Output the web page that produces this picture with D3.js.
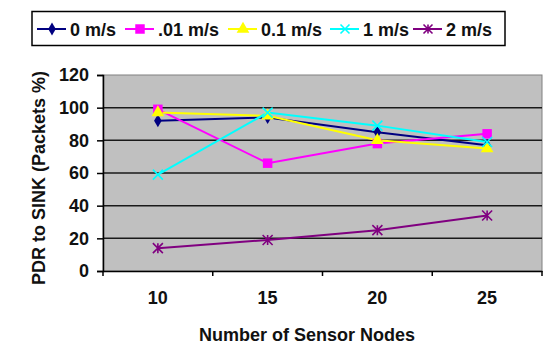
<!DOCTYPE html>
<html lang="en">
  <head>
    <meta charset="UTF-8" />
    <script src="https://d3js.org/d3.v7.min.js"></script>
    <title>PDR to SINK</title>
    <style>
      body { margin: 0; background: #fff; }
      text { font-family: Arial, "Liberation Sans", sans-serif; font-weight: bold; }
    </style>
  </head>
  <body>
    <svg id="chart" width="549" height="345"></svg>

    <script>
      // data
      const nodes = ["10", "15", "20", "25"];
      const seriesNames = ["0 m/s", ".01 m/s", "0.1 m/s", "1 m/s", "2 m/s"];
      const v0 = [92, 94, 85, 77];
      const v001 = [99, 66, 78, 84];
      const v01 = [97, 95, 80, 75];
      const v1 = [59, 97, 89, 79];
      const v2 = [14, 19, 25, 34];
      const yTicks = [0, 20, 40, 60, 80, 100, 120];

      const colors = ["#000080", "#ff00ff", "#ffff00", "#00ffff", "#800080"];
      const symbols = ["diamond", "square", "triangle", "x", "star"];
      const allValues = [v0, v001, v01, v1, v2];

      const svg = d3.select("#chart");
      const plot = { left: 103, right: 542, top: 75, bottom: 271 };
      const fontSize = "18px";

      const x = d3.scaleBand().domain(nodes).range([plot.left, plot.right]);
      const y = d3.scaleLinear().domain([0, 120]).range([plot.bottom, plot.top]);

      // plot background
      svg.append("rect")
        .attr("x", plot.left)
        .attr("y", plot.top)
        .attr("width", plot.right - plot.left)
        .attr("height", plot.bottom - plot.top)
        .attr("fill", "#c0c0c0")
        .attr("stroke", "#808080")
        .attr("stroke-width", 1);

      // gridlines
      svg.append("g")
        .selectAll("line")
        .data(yTicks.filter((d) => d > 0 && d < 120))
        .enter()
        .append("line")
        .attr("x1", plot.left)
        .attr("x2", plot.right)
        .attr("y1", (d) => y(d))
        .attr("y2", (d) => y(d))
        .attr("stroke", "#1a1a1a")
        .attr("stroke-width", 1.5);

      // axes
      const yAxis = svg.append("g")
        .attr("transform", `translate(${plot.left},0)`)
        .call(d3.axisLeft(y).tickValues(yTicks).tickSize(6).tickPadding(8));
      yAxis.select(".domain").attr("stroke", "#000").attr("stroke-width", 1.5);
      yAxis.selectAll(".tick line").attr("stroke", "#000").attr("stroke-width", 1.5);
      yAxis.selectAll("text").style("font-size", fontSize).attr("fill", "#111");

      const xAxis = svg.append("g")
        .attr("transform", `translate(0,${plot.bottom})`)
        .call(d3.axisBottom(x).tickSize(0).tickPadding(20));
      xAxis.select(".domain").attr("stroke", "#000").attr("stroke-width", 1.5);
      xAxis.selectAll("text").style("font-size", fontSize).attr("fill", "#111");

      // category separators on the x axis
      svg.append("g")
        .selectAll("line")
        .data(nodes.concat(["end"]))
        .enter()
        .append("line")
        .attr("x1", (d, i) => plot.left + i * x.step())
        .attr("x2", (d, i) => plot.left + i * x.step())
        .attr("y1", plot.bottom)
        .attr("y2", plot.bottom + 5)
        .attr("stroke", "#000")
        .attr("stroke-width", 1.5);

      // axis titles
      svg.append("text")
        .attr("x", 307)
        .attr("y", 341)
        .attr("text-anchor", "middle")
        .style("font-size", fontSize)
        .attr("fill", "#111")
        .text("Number of Sensor Nodes");

      svg.append("text")
        .attr("transform", "translate(45,178) rotate(-90)")
        .attr("text-anchor", "middle")
        .style("font-size", fontSize)
        .attr("fill", "#111")
        .text("PDR to SINK (Packets %)");

      // marker drawer
      function marker(g, type, color, size) {
        if (type === "x" || type === "star") {
          const s = size / 2;
          g.append("path")
            .attr("d", `M${-s},${-s}L${s},${s}M${-s},${s}L${s},${-s}` + (type === "star" ? `M0,${-s}L0,${s}` : ""))
            .attr("stroke", color)
            .attr("stroke-width", 1.6)
            .attr("fill", "none");
        } else {
          const sym = { diamond: d3.symbolDiamond, square: d3.symbolSquare, triangle: d3.symbolTriangle }[type];
          const area = { diamond: 50, square: 90, triangle: 70 }[type];
          g.append("path")
            .attr("d", d3.symbol().type(sym).size(area)())
            .attr("fill", color);
        }
      }

      const line = d3.line()
        .x((d, i) => x(nodes[i]) + x.bandwidth() / 2)
        .y((d) => y(d));

      // draw series
      allValues.forEach((vals, si) => {
        svg.append("path")
          .datum(vals)
          .attr("d", line)
          .attr("fill", "none")
          .attr("stroke", colors[si])
          .attr("stroke-width", 2);
      });
      allValues.forEach((vals, si) => {
        vals.forEach((v, i) => {
          const g = svg.append("g")
            .attr("transform", `translate(${x(nodes[i]) + x.bandwidth() / 2},${y(v)})`);
          marker(g, symbols[si], colors[si], 10);
        });
      });

      // legend
      const legend = svg.append("g");
      legend.append("rect")
        .attr("x", 32)
        .attr("y", 11.5)
        .attr("width", 473)
        .attr("height", 34)
        .attr("fill", "#fff")
        .attr("stroke", "#000")
        .attr("stroke-width", 1.5);

      const legendX = [37, 125, 228, 330, 413];
      seriesNames.forEach((name, i) => {
        const g = legend.append("g").attr("transform", `translate(${legendX[i]},29)`);
        g.append("line")
          .attr("x1", 0)
          .attr("x2", 29)
          .attr("stroke", colors[i])
          .attr("stroke-width", 2);
        const m = g.append("g").attr("transform", "translate(15,0)");
        marker(m, symbols[i], colors[i], 9);
        g.append("text")
          .attr("x", 33)
          .attr("y", 6.5)
          .style("font-size", fontSize)
          .attr("fill", "#111")
          .text(name);
      });
    </script>
  </body>
</html>
